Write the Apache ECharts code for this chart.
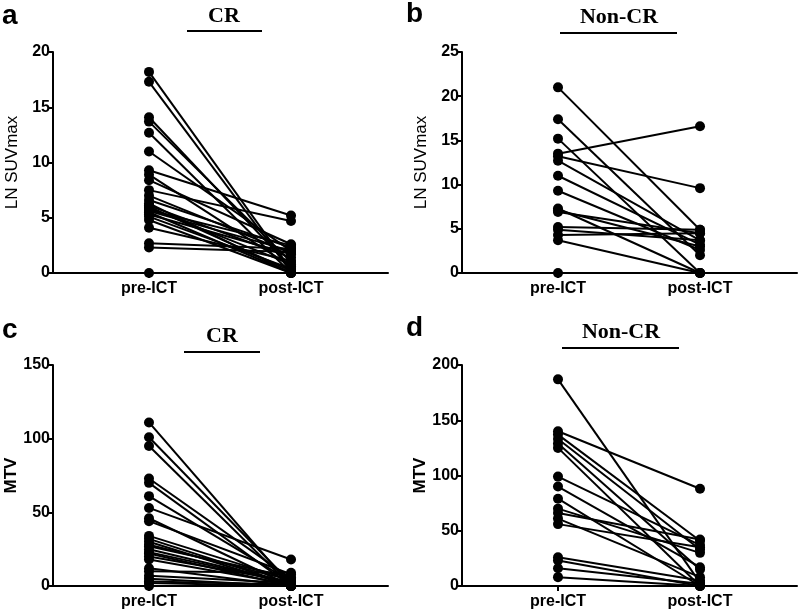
<!DOCTYPE html>
<html>
<head>
<meta charset="utf-8">
<script src="https://cdn.jsdelivr.net/npm/echarts@6.0.0/dist/echarts.min.js"></script>
<style>
html,body{margin:0;padding:0;background:#fff;}
#chart{width:799px;height:616px;}
</style>
</head>
<body>
<div id="chart"></div>
<script>
// Categories
var categories = ['pre-ICT', 'post-ICT'];

// Panel a: CR, LN SUVmax
var preA  = [18.2, 17.3, 14.1, 13.7, 12.7, 11.0, 9.3, 8.9, 8.4, 7.5, 7.0, 6.6, 6.3, 6.1, 5.9, 5.7, 5.5, 5.3, 5.1, 4.8, 4.1, 2.7, 2.3, 0, 6.0, 5.6];
var postA = [0.3, 0.1, 0.5, 1.0, 0, 2.0, 5.2, 0.6, 2.6, 4.7, 1.8, 2.3, 0, 1.4, 0.8, 2.5, 0, 1.7, 0.4, 0, 1.1, 2.2, 1.9, 0, 0.2, 2.0];

// Panel b: Non-CR, LN SUVmax
var preB  = [21.0, 17.4, 15.2, 13.5, 13.2, 12.7, 11.0, 9.3, 7.3, 6.9, 5.2, 4.9, 4.3, 3.7, 0, 7.1];
var postB = [4.9, 2.0, 0, 16.6, 9.6, 3.7, 3.2, 2.6, 0, 4.5, 4.9, 3.7, 4.5, 0, 0, 3.0];

// Panel c: CR, MTV
var preC  = [111, 101, 95, 73, 70, 61, 53, 46, 44, 34, 32, 30, 27, 25, 22, 20, 18, 12, 10, 7, 5, 3, 2, 0, 28, 23];
var postC = [0, 2, 0, 5, 0, 3, 18, 0, 8, 4, 1, 0, 6, 2, 0, 3, 1, 0, 9, 2, 0, 1, 0, 0, 4, 2];

// Panel d: Non-CR, MTV
var preD  = [187, 140, 137, 133, 129, 125, 99, 90, 79, 70, 66, 61, 56, 26, 23, 16, 8];
var postD = [3, 88, 41, 33, 15, 0, 37, 17, 0, 30, 42, 8, 35, 5, 0, 2, 0];

// Axis ticks [min, max, interval]
var yTicksA = [0, 20, 5];
var yTicksB = [0, 25, 5];
var yTicksC = [0, 150, 50];
var yTicksD = [0, 200, 50];

var panels = [
  {pre: preA, post: postA, y: yTicksA, name: 'LN SUVmax', bold: 'normal'},
  {pre: preB, post: postB, y: yTicksB, name: 'LN SUVmax', bold: 'normal'},
  {pre: preC, post: postC, y: yTicksC, name: 'MTV', bold: 'bold'},
  {pre: preD, post: postD, y: yTicksD, name: 'MTV', bold: 'bold'}
];

var grids = [
  {left: 53, top: 52, width: 335, height: 221},
  {left: 462, top: 52, width: 335, height: 221},
  {left: 53, top: 365, width: 335, height: 221},
  {left: 462, top: 365, width: 335, height: 221}
];

var FONT = 'Liberation Sans, Arial, sans-serif';
var SERIF = 'Liberation Serif, Times New Roman, serif';

var xAxes = [], yAxes = [], series = [];
panels.forEach(function (p, k) {
  xAxes.push({
    type: 'value', gridIndex: k, min: -0.676, max: 1.683,
    axisLine: {show: true, onZero: false, lineStyle: {color: '#000', width: 2}},
    axisTick: {show: true, customValues: [0, 1], length: 5, lineStyle: {color: '#000', width: 2}},
    axisLabel: {show: true, customValues: [0, 1], margin: 8, color: '#000', fontFamily: FONT, fontWeight: 'bold', fontSize: 16,
      formatter: function (v) { return categories[Math.round(v)] || ''; }},
    splitLine: {show: false}
  });
  yAxes.push({
    type: 'value', gridIndex: k, min: p.y[0], max: p.y[1], interval: p.y[2],
    name: p.name, nameLocation: 'middle', nameGap: 32, nameRotate: 90,
    nameTextStyle: {color: '#000', fontFamily: FONT, fontSize: 17, fontWeight: p.bold},
    axisLine: {show: true, onZero: false, lineStyle: {color: '#000', width: 2}},
    axisTick: {show: true, length: 5, lineStyle: {color: '#000', width: 2}},
    axisLabel: {color: '#000', fontFamily: FONT, fontWeight: 'bold', fontSize: 16, margin: 3},
    splitLine: {show: false}
  });
  for (var i = 0; i < p.pre.length; i++) {
    series.push({
      type: 'line', xAxisIndex: k, yAxisIndex: k,
      data: [[0, p.pre[i]], [1, p.post[i]]],
      symbol: 'circle', symbolSize: 10, clip: false, silent: true,
      lineStyle: {color: '#000', width: 2},
      itemStyle: {color: '#000'},
      animation: false
    });
  }
});

function label(x, y, txt) {
  return {type: 'text', left: x, top: y, style: {text: txt, fill: '#000', font: 'bold 28px ' + FONT}};
}
function title(cx, cy, txt) {
  return {type: 'text', x: cx, y: cy, style: {text: txt, fill: '#000', font: 'bold 22px ' + SERIF, align: 'center', verticalAlign: 'middle'}};
}
function uline(x1, x2, y) {
  return {type: 'line', shape: {x1: x1, y1: y, x2: x2, y2: y}, style: {stroke: '#000', lineWidth: 2}};
}

var option = {
  backgroundColor: '#fff',
  animation: false,
  grid: grids,
  xAxis: xAxes,
  yAxis: yAxes,
  series: series,
  graphic: [
    label(2, 2, 'a'), label(406, 0, 'b'), label(2, 316, 'c'), label(406, 314, 'd'),
    title(224, 16, 'CR'), uline(187, 262, 31),
    title(619, 17, 'Non-CR'), uline(560, 677, 33),
    title(222, 336, 'CR'), uline(184, 260, 352),
    title(621, 332, 'Non-CR'), uline(562, 679, 348)
  ]
};

var chart = echarts.init(document.getElementById('chart'), null, {renderer: 'canvas'});
chart.setOption(option);
</script>
</body>
</html>
